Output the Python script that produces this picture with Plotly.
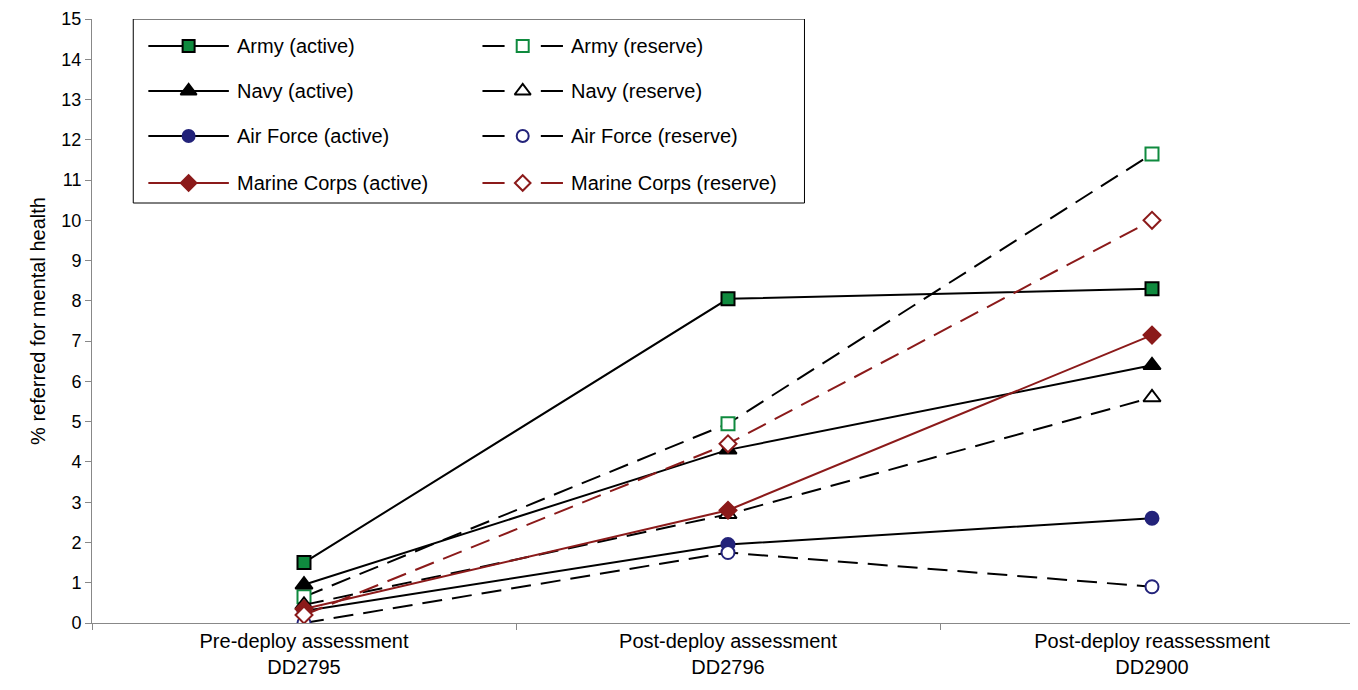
import plotly.graph_objects as go

# x categories
stages = ["Pre-deploy assessment<br>DD2795", "Post-deploy assessment<br>DD2796",
          "Post-deploy reassessment<br>DD2900"]
xpos = [0, 1, 2]

army_active = [1.5, 8.05, 8.3]
army_reserve = [0.65, 4.95, 11.65]
navy_active = [0.95, 4.3, 6.4]
navy_reserve = [0.45, 2.7, 5.6]
af_active = [0.3, 1.95, 2.6]
af_reserve = [0.0, 1.75, 0.9]
marine_active = [0.35, 2.8, 7.15]
marine_reserve = [0.2, 4.45, 10.0]

green = "#0f8a3e"
navy_blue = "#23237a"
maroon = "#8b1a1a"

# name, values, line colour, dash, symbol, fill, marker outline
series = [
    ("Army (active)", army_active, "black", "solid", "square", green, "black"),
    ("Army (reserve)", army_reserve, "black", "dash", "square", "white", green),
    ("Navy (active)", navy_active, "black", "solid", "triangle-up", "black", "black"),
    ("Navy (reserve)", navy_reserve, "black", "dash", "triangle-up", "white", "black"),
    ("Air Force (active)", af_active, "black", "solid", "circle", navy_blue, navy_blue),
    ("Air Force (reserve)", af_reserve, "black", "dash", "circle", "white", navy_blue),
    ("Marine Corps (active)", marine_active, maroon, "solid", "diamond", maroon, maroon),
    ("Marine Corps (reserve)", marine_reserve, maroon, "dash", "diamond", "white", maroon),
]


def marker(sym, fill, outline, size):
    return dict(symbol=sym, size=size + (2 if "triangle" in sym else 0),
                color=fill, line=dict(color=outline, width=2))


fig = go.Figure()
for name, vals, lc, dash, sym, mc, mlc in series:
    fig.add_trace(go.Scatter(
        x=xpos, y=vals, name=name, mode="lines+markers",
        line=dict(color=lc, width=2, dash="20px,10px" if dash == "dash" else "solid"),
        marker=marker(sym, mc, mlc, 13),
    ))

# hand-drawn legend on an overlay axis in screen pixels (2 columns x 4 rows)
row_y = [43, 88, 133, 180]
for i, (name, vals, lc, dash, sym, mc, mlc) in enumerate(series):
    col, row = i % 2, i // 2
    x0 = 148 if col == 0 else 480
    y = row_y[row]
    if dash == "dash":
        xs = [x0, x0 + 22, None, x0 + 58, x0 + 80]
        ys = [y, y, None, y, y]
    else:
        xs = [x0, x0 + 80]
        ys = [y, y]
    fig.add_trace(go.Scatter(
        x=xs, y=ys, mode="lines", line=dict(color=lc, width=2),
        xaxis="x2", yaxis="y2", hoverinfo="skip",
    ))
    fig.add_trace(go.Scatter(
        x=[x0 + 40], y=[y], mode="markers", marker=marker(sym, mc, mlc, 12),
        xaxis="x2", yaxis="y2", hoverinfo="skip",
    ))
    fig.add_annotation(x=x0 + 86, y=y, xref="x2", yref="y2", text=name,
                       showarrow=False, xanchor="left", yanchor="middle",
                       font=dict(size=20))

fig.add_shape(type="rect", xref="x2", yref="y2", x0=133, x1=800, y0=16, y1=200,
              line=dict(color="black", width=1), fillcolor="rgba(0,0,0,0)")

fig.update_layout(
    width=1358, height=690,
    margin=dict(l=84, r=2, t=11, b=75),
    plot_bgcolor="white", paper_bgcolor="white",
    font=dict(family="Liberation Sans, Arial, sans-serif", size=20, color="black"),
    showlegend=False,
    xaxis=dict(
        range=[-0.5, 2.5], tickvals=xpos, ticktext=stages, ticks="",
        showgrid=False, zeroline=False, showline=True, linecolor="#888",
        minor=dict(tickmode="linear", tick0=-0.5, dtick=1, ticks="outside",
                   ticklen=6, tickcolor="#888", showgrid=False),
        automargin=False, tickfont=dict(size=20),
    ),
    yaxis=dict(
        range=[0, 15], dtick=1, showgrid=False, zeroline=False,
        showline=True, linecolor="#888", ticks="outside", ticklen=6,
        tickcolor="#888", automargin=False, ticklabeloverflow="allow",
        tickfont=dict(size=18),
        title=dict(text="% referred for mental health", font=dict(size=20), standoff=10),
    ),
    xaxis2=dict(overlaying="x", range=[92, 1356], visible=False, fixedrange=True),
    yaxis2=dict(overlaying="y", range=[620, 16], visible=False, fixedrange=True),
)

fig.write_html("out.html")
